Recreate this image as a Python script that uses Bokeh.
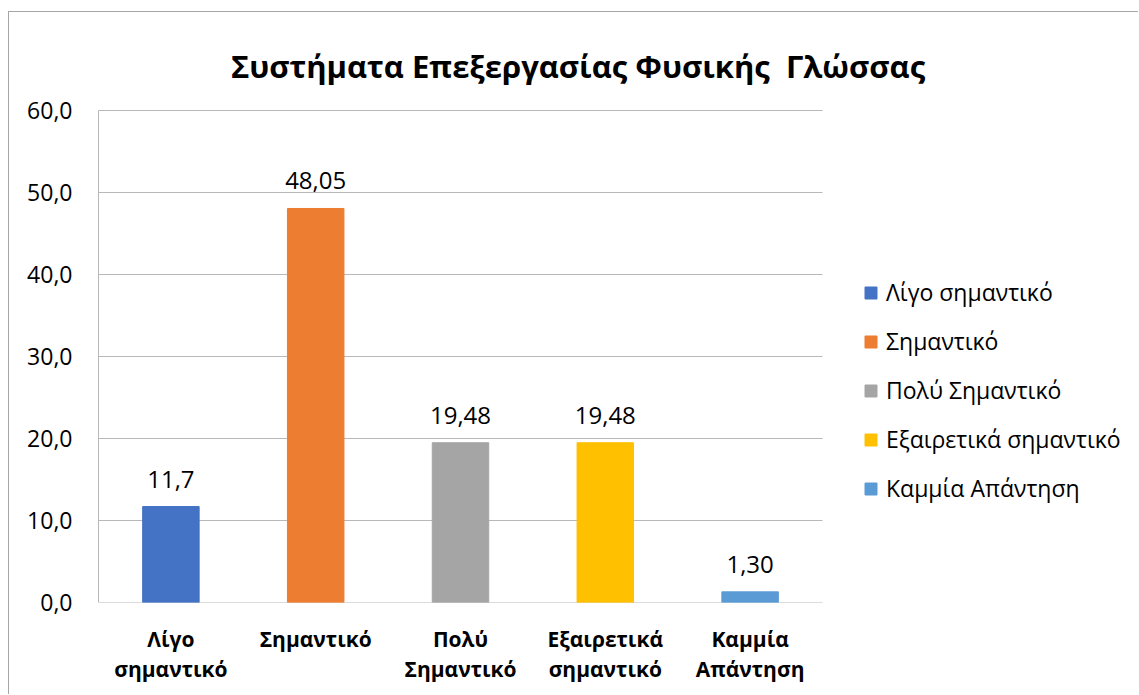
from bokeh.plotting import figure
from bokeh.models import (ColumnDataSource, Range1d, FixedTicker,
                          Legend, LegendItem, LabelSet, Label)
from bokeh.core.properties import value
from bokeh.embed import file_html
from bokeh.resources import INLINE

title_text = "Συστήματα Επεξεργασίας Φυσικής \u00a0Γλώσσας"
categories = ["Λίγο σημαντικό", "Σημαντικό", "Πολύ Σημαντικό",
              "Εξαιρετικά σημαντικό", "Καμμία Απάντηση"]
axis_labels = ["Λίγο\nσημαντικό", "Σημαντικό", "Πολύ\nΣημαντικό",
               "Εξαιρετικά\nσημαντικό", "Καμμία\nΑπάντηση"]
values = [11.7, 48.05, 19.48, 19.48, 1.30]
value_labels = ["11,7", "48,05", "19,48", "19,48", "1,30"]
colors = ["#4472C4", "#ED7D31", "#A5A5A5", "#FFC000", "#5B9BD5"]
y_ticks = [0, 10, 20, 30, 40, 50, 60]
y_tick_labels = ["0,0", "10,0", "20,0", "30,0", "40,0", "50,0", "60,0"]

FONT = "Open Sans"
GRID = "#B8B8B8"

n = len(categories)
xs = list(range(1, n + 1))
source = ColumnDataSource(dict(x=xs, name=categories, val=values,
                               lab=value_labels, col=colors))

# ---- layout (pixels) ----
W, H = 1130, 683
BORDER_L, BORDER_B = 85, 93
px_per_cat = 144.8            # category slot width
px_per_unit = 8.2             # pixels per y unit
title_base_px = 537           # title baseline above the zero line

cat_start = 0.5
y_max = y_ticks[-1]
x_start = cat_start - 4 / px_per_cat
x_end = x_start + (W - BORDER_L) / px_per_cat
y_end = (H - BORDER_B) / px_per_unit

p = figure(x_range=Range1d(x_start, x_end), y_range=Range1d(0, y_end),
           width=W, height=H,
           output_backend="svg", toolbar_location=None,
           min_border_left=BORDER_L, min_border_right=0,
           min_border_top=0, min_border_bottom=BORDER_B)
p.styles = {"margin-left": "8px", "margin-top": "11px",
            "border-left": "1px solid #A6A6A6", "border-top": "1px solid #A6A6A6"}
p.outline_line_color = None
p.xgrid.grid_line_color = None
p.ygrid.grid_line_color = None

# gridlines and value axis line, limited to the category area
p.segment(x0=[cat_start] * len(y_ticks), x1=[cat_start + n] * len(y_ticks),
          y0=y_ticks, y1=y_ticks, line_color=GRID, line_width=1)
p.segment(x0=[cat_start], x1=[cat_start], y0=[0], y1=[y_max],
          line_color=GRID, line_width=1)

r = p.vbar(x="x", top="val", width=0.39, color="col", source=source)

labels = LabelSet(x="x", y="val", text="lab", source=source, text_align="center",
                  text_baseline="alphabetic", y_offset=19, text_font=value(FONT),
                  text_font_size="24px", text_color="#000000")
p.add_layout(labels)

# title
title = Label(x=cat_start + 479.5 / px_per_cat, y=title_base_px / px_per_unit,
              text=title_text, text_align="center", text_baseline="alphabetic",
              text_font=FONT, text_font_size="31px", text_font_style="bold",
              text_color="#000000")
p.add_layout(title)

# axes
p.yaxis.ticker = FixedTicker(ticks=y_ticks)
p.yaxis.major_label_overrides = {t: l for t, l in zip(y_ticks, y_tick_labels)}
p.yaxis.major_label_text_font = FONT
p.yaxis.major_label_text_font_size = "23px"
p.yaxis.major_label_text_color = "#000000"
p.yaxis.major_tick_out = 0
p.yaxis.major_tick_in = 0
p.yaxis.minor_tick_out = 0
p.yaxis.minor_tick_in = 0
p.yaxis.major_label_standoff = 22
p.yaxis.axis_line_color = None

p.xaxis.ticker = FixedTicker(ticks=xs)
p.xaxis.major_label_overrides = {x: l for x, l in zip(xs, axis_labels)}
p.xaxis.major_label_text_font = FONT
p.xaxis.major_label_text_font_size = "21px"
p.xaxis.major_label_text_font_style = "bold"
p.xaxis.major_label_text_color = "#000000"
p.xaxis.major_label_text_line_height = 1.1
p.xaxis.major_tick_out = 0
p.xaxis.major_tick_in = 0
p.xaxis.minor_tick_out = 0
p.xaxis.minor_tick_in = 0
p.xaxis.major_label_standoff = 22
p.xaxis.axis_line_color = None

items = [LegendItem(label=c, renderers=[r], index=i) for i, c in enumerate(categories)]
legend = Legend(items=items, location=(769, 98), orientation="vertical",
                glyph_width=15, glyph_height=15, label_height=15, label_standoff=8,
                spacing=17, padding=0, margin=0, border_line_color=None,
                background_fill_alpha=0, label_text_font=FONT,
                label_text_font_size="23px", label_text_color="#000000")
p.add_layout(legend)

open("out.html", "w").write(file_html(p, INLINE))
